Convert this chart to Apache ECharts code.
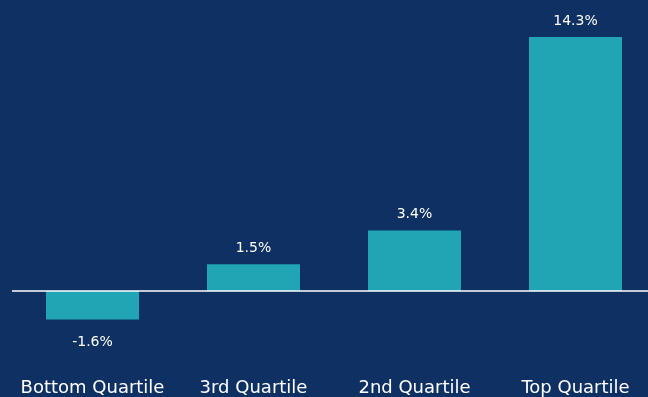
<!DOCTYPE html>
<html><head><meta charset="utf-8">
<script src="https://cdn.jsdelivr.net/npm/echarts@6/dist/echarts.min.js"></script>
<style>html,body{margin:0;padding:0;background:#0F3062;}#c{width:648px;height:397px;}</style>
</head><body><div id="c"></div>
<script>
var categories = ['Bottom Quartile', '3rd Quartile', '2nd Quartile', 'Top Quartile'];
var values = [-1.6, 1.5, 3.4, 14.3];

var chart = echarts.init(document.getElementById('c'), null, {renderer: 'canvas'});
var font = '"DejaVu Sans", sans-serif';
chart.setOption({
  backgroundColor: '#0F3062',
  animation: false,
  grid: {left: 12, width: 644, top: 24.6, bottom: 70.5, containLabel: false, outerBoundsMode: 'none'},
  xAxis: {
    type: 'category', data: categories,
    axisLine: {show: false, onZero: false}, axisTick: {show: false},
    axisLabel: {color: '#ffffff', fontSize: 18, fontFamily: font, margin: 53, interval: 0}
  },
  yAxis: {
    type: 'value', min: -2, max: 15, show: false, splitLine: {show: false}
  },
  series: [{
    type: 'bar', barWidth: 93,
    data: values.map(function (v) {
      return {
        value: v,
        label: {position: v < 0 ? 'bottom' : 'top', distance: v < 0 ? 16 : 9}
      };
    }),
    itemStyle: {color: '#21A5B5'},
    label: {show: true, color: '#ffffff', fontSize: 14, fontFamily: font,
      formatter: function (p) { return p.value.toFixed(1) + '%'; }},
    markLine: {
      silent: true, symbol: 'none', label: {show: false},
      lineStyle: {color: '#ffffff', width: 1.5, type: 'solid'},
      data: [{yAxis: 0}]
    }
  }]
});
</script></body></html>
